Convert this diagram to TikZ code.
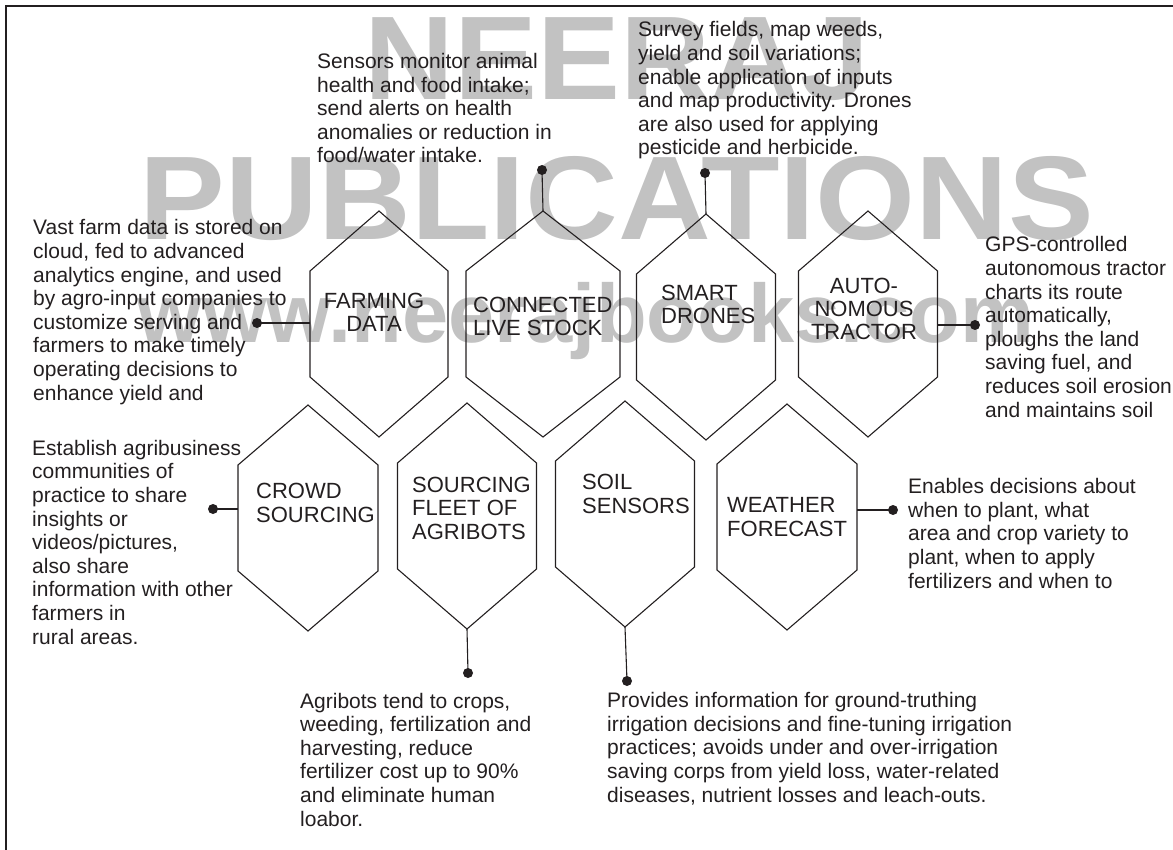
\documentclass[tikz,border=0pt]{standalone}
\usepackage{fontspec}
\setmainfont{Liberation Sans}
\usetikzlibrary{calc}
\definecolor{ink}{HTML}{231F20}
\definecolor{wmgray}{HTML}{C2C2C2}
\tikzset{
  hexbox/.style={draw=none, minimum height=226pt, inner sep=0pt, outer sep=0pt},
  hexline/.style={draw=ink, line width=1.1pt, line join=miter},
  conn/.style={draw=ink, line width=1.1pt},
  dotnode/.style={circle, fill=ink, inner sep=0pt, minimum size=10pt},
  desc/.style={text=ink, align=left, inner sep=0pt, anchor=base west, font=\fontsize{21}{23.6}\selectfont},
  lab/.style={text=ink, align=left, inner sep=0pt, anchor=base west, font=\fontsize{22}{23.2}\selectfont},
  labc/.style={lab, align=center, anchor=base},
  wm/.style={text=wmgray, inner sep=0pt, anchor=base, font=\bfseries}
}
\newcommand\hexdraw[1]{\draw[hexline] (#1.north) -- ([yshift=-60pt]#1.north east) -- ([yshift=60pt]#1.south east) -- (#1.south) -- ([yshift=60pt]#1.south west) -- ([yshift=-60pt]#1.north west) -- cycle;}
\begin{document}
\begin{tikzpicture}[x=1pt,y=-1pt]
\useasboundingbox (0,0) rectangle (1173,850);
% watermark
\node[wm, font=\bfseries\fontsize{119}{119}\selectfont] (wm1) at (617,100) {\scalebox{1.045}[1]{NEERAJ}};
\node[wm, font=\bfseries\fontsize{119}{119}\selectfont] (wm2) at (617,240) {\scalebox{1.08}[1]{PUBLICATIONS}};
\node[wm, font=\bfseries\fontsize{83}{83}\selectfont] (wm3) at (586,343) {www.neerajbooks.com};
% frame
\coordinate (fbl) at (6,850);
\coordinate (ftl) at (6,6);
\coordinate (ftr) at (1173,6);
\draw[ink, line width=2pt] (fbl) -- (ftl) -- (ftr);
% hexagons top row
\node[hexbox, minimum width=138pt] (fd) at (379,324) {};
\node[hexbox, minimum width=154pt] (cl) at (543,324) {};
\node[hexbox, minimum width=139pt] (sd) at (706,327) {};
\node[hexbox, minimum width=139pt] (at) at (868,324) {};
% bottom row
\node[hexbox, minimum width=140pt] (cs) at (308,518) {};
\node[hexbox, minimum width=139pt] (sf) at (467,516) {};
\node[hexbox, minimum width=139pt] (ss) at (625,514) {};
\node[hexbox, minimum width=140pt] (wf) at (787,517) {};
\foreach \h in {fd,cl,sd,at,cs,sf,ss,wf} {\hexdraw{\h}}
% labels (anchor = baseline of last line)
\node[labc] (fdl) at (374,332) {FARMING\\DATA};
\node[lab] (cll) at (473,336) {CONNECTED\\LIVE STOCK};
\node[lab] (sdl) at (661,324) {SMART\\DRONES};
\node[labc] (atl) at (864,340) {AUTO-\\NOMOUS\\TRACTOR};
\node[lab] (csl) at (256,522) {CROWD\\SOURCING};
\node[lab] (sfl) at (412,539) {SOURCING\\FLEET OF\\AGRIBOTS};
\node[lab] (ssl) at (582,513) {SOIL\\SENSORS};
\node[lab] (wfl) at (727,536) {WEATHER\\FORECAST};
% dots
\node[dotnode] (dfd) at (257,323) {};
\node[dotnode] (dcl) at (542,170) {};
\node[dotnode] (dsd) at (705,173) {};
\node[dotnode] (dat) at (975,325) {};
\node[dotnode] (dcs) at (213,509) {};
\node[dotnode] (dwf) at (893,510) {};
\node[dotnode] (dsf) at (468,673) {};
\node[dotnode] (dss) at (627,681) {};
% connectors
\draw[conn] (dfd.center) -- (dfd.center -| fd.west);
\draw[conn] (dcl.center) -- (cl.north);
\draw[conn] (dsd.center) -- (sd.north);
\draw[conn] (dat.center) -- (dat.center -| at.east);
\draw[conn] (dcs.center) -- (dcs.center -| cs.west);
\draw[conn] (dwf.center) -- (dwf.center -| wf.east);
\draw[conn] (dsf.center) -- (sf.south);
\draw[conn] (dss.center) -- (ss.south);
% descriptions (anchor = baseline of last line)
\node[desc] (tfd) at (33,400) {Vast farm data is stored on\\cloud, fed to advanced\\analytics engine, and used\\by agro-input companies to\\customize serving and\\farmers to make timely\\operating decisions to\\enhance yield and};
\node[desc] (tcl) at (317,163) {Sensors monitor animal\\health and food intake;\\send alerts on health\\anomalies or reduction in\\food/water intake.};
\node[desc] (tsd) at (638,155) {Survey fields, map weeds,\\yield and soil variations;\\enable application of inputs\\and map productivity. Drones\\are also used for applying\\pesticide and herbicide.};
\node[desc] (tat) at (985,417) {GPS-controlled\\autonomous tractor\\charts its route\\automatically,\\ploughs the land\\saving fuel, and\\reduces soil erosion\\and maintains soil};
\node[desc] (tcs) at (32,644) {Establish agribusiness\\communities of\\practice to share\\insights or\\videos/pictures,\\also share\\information with other\\farmers in\\rural areas.};
\node[desc] (twf) at (908,588) {Enables decisions about\\when to plant, what\\area and crop variety to\\plant, when to apply\\fertilizers and when to};
\node[desc] (tsf) at (300,826) {Agribots tend to crops,\\weeding, fertilization and\\harvesting, reduce\\fertilizer cost up to 90\%\\and eliminate human\\loabor.};
\node[desc] (tss) at (607,802) {Provides information for ground-truthing\\irrigation decisions and fine-tuning irrigation\\practices; avoids under and over-irrigation\\saving corps from yield loss, water-related\\diseases, nutrient losses and leach-outs.};
\end{tikzpicture}
\end{document}
